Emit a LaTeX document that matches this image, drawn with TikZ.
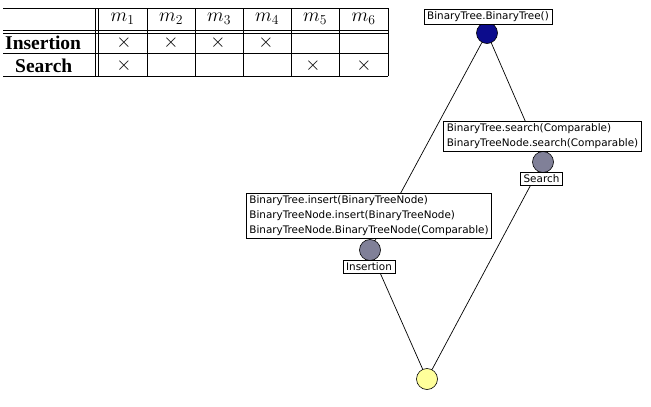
\RequirePackage{fix-cm}
\documentclass[tikz,border=0pt]{standalone}
\usepackage{fontspec}
\setmainfont{Liberation Serif}
\newfontfamily\etiqfont{DejaVu Sans}
\definecolor{azulsup}{RGB}{12,12,140}
\definecolor{grisconc}{RGB}{128,128,152}
\definecolor{amarinf}{RGB}{255,255,155}
\begin{document}
\begin{tikzpicture}[x=1pt, y=-1pt,
    concepto/.style={circle, draw=black, line width=0.6pt, minimum size=21pt, inner sep=0pt},
    etiqueta/.style={draw=black, fill=white, line width=0.6pt, font=\etiqfont\fontsize{10.4}{15}\selectfont, align=left, inner xsep=3pt, inner ysep=2.4pt},
    celda/.style={inner sep=0pt, font=\fontsize{19.5}{22}\selectfont},
    arista/.style={line width=0.7pt}]
    \useasboundingbox (0,0) rectangle (651,407);

    % Tabla del contexto
    \foreach \y in {8,30,33,53,76} \draw[line width=0.6pt] (3,\y) -- (388,\y);
    \foreach \x in {95,98,147,195,243,291,339,388} \draw[line width=0.6pt] (\x,8) -- (\x,76);
    \node[celda, anchor=west, font=\bfseries\fontsize{19.5}{22}\selectfont] (insercion) at (5,43) {Insertion};
    \node[celda, anchor=west, font=\bfseries\fontsize{19.5}{22}\selectfont] (busqueda) at (15,65.5) {Search};
    \foreach \i/\x in {1/122.5,2/171,3/219,4/267,5/315,6/363.5}
        \node[celda] (m\i) at (\x,19) {$m_{\i}$};
    % Cruces de la relacion
    \foreach \i/\x in {1/124,2/171,3/218,4/266}
        \node[celda] (xi\i) at (\x,43) {$\times$};
    \foreach \i/\x in {1/124,5/313,6/364}
        \node[celda] (xb\i) at (\x,66) {$\times$};

    % Conceptos del retículo
    \node[concepto, fill=azulsup] (sup) at (487,33) {};
    \node[concepto, fill=grisconc] (bus) at (543,162) {};
    \node[concepto, fill=grisconc] (ins) at (370,250) {};
    \node[concepto, fill=amarinf] (inf) at (427,379) {};

    % Aristas
    \draw[arista] (sup) -- (ins);
    \draw[arista] (sup) -- (bus);
    \draw[arista] (ins) -- (inf);
    \draw[arista] (bus) -- (inf);

    % Etiquetas de atributos y objetos
    \node[etiqueta] (etsup) at (488,16.5) {BinaryTree.BinaryTree()};
    \node[etiqueta] (etbus) at (542.5,136) {BinaryTree.search(Comparable)\\BinaryTreeNode.search(Comparable)};
    \node[etiqueta] (objbus) at (541.5,179) {Search};
    \node[etiqueta] (etins) at (369,215.5) {BinaryTree.insert(BinaryTreeNode)\\BinaryTreeNode.insert(BinaryTreeNode)\\BinaryTreeNode.BinaryTreeNode(Comparable)};
    \node[etiqueta] (objins) at (369,266.5) {Insertion};
\end{tikzpicture}
\end{document}
